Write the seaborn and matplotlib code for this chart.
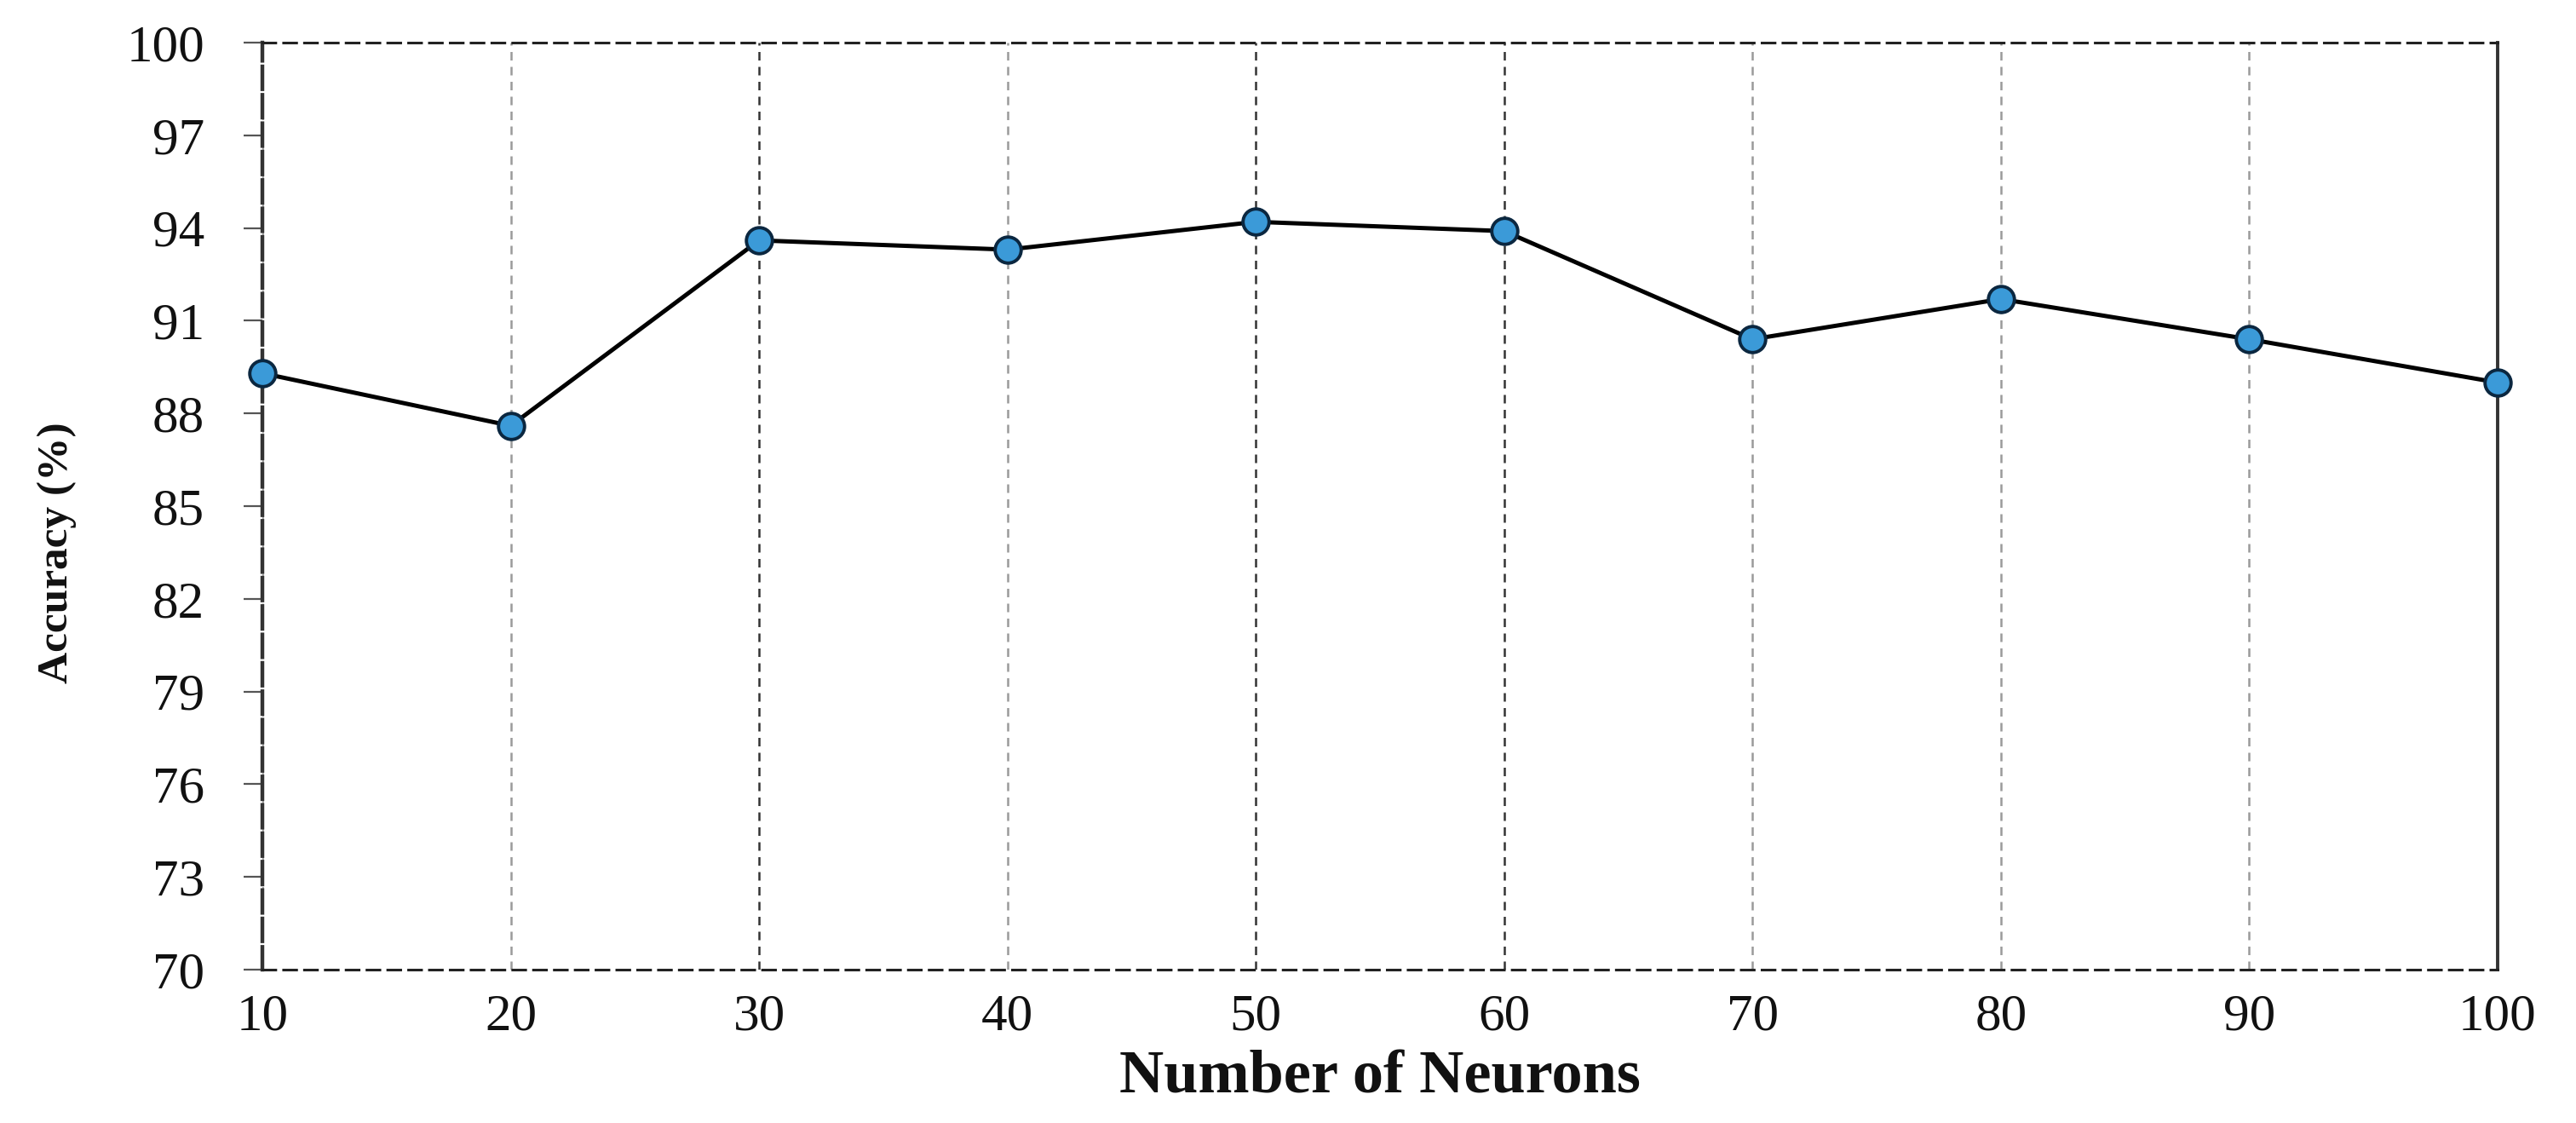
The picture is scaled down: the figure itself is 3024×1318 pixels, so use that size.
import matplotlib
matplotlib.use("Agg")
import matplotlib.pyplot as plt
import seaborn as sns
import pandas as pd
import numpy as np

# ---- data ----
neurons = [10, 20, 30, 40, 50, 60, 70, 80, 90, 100]
accuracy = [89.3, 87.6, 93.6, 93.3, 94.2, 93.9, 90.4, 91.7, 90.4, 89.0]
y_ticks = [70, 73, 76, 79, 82, 85, 88, 91, 94, 97, 100]
x_label = "Number of Neurons"
y_label = "Accuracy (%)"

sns.set_theme(style="white")
plt.rcParams["font.family"] = ["Liberation Serif", "DejaVu Serif"]

df = pd.DataFrame({"neurons": neurons, "accuracy": accuracy})

fig = plt.figure(figsize=(30.24, 13.18), dpi=100)
ax = fig.add_axes([0.10185, 0.13657, 0.8677, 0.8255])

sns.lineplot(data=df, x="neurons", y="accuracy", ax=ax, color="black",
             linewidth=3.6, marker="o", markersize=22,
             markerfacecolor="#3b9ad8", markeredgecolor="#0b2740",
             markeredgewidth=2.8, zorder=5, clip_on=False)

ax.set_xlim(neurons[0], neurons[-1])
ax.set_ylim(y_ticks[0], y_ticks[-1])
ax.set_xticks(neurons)
ax.set_yticks(y_ticks)

ax.grid(axis="x", linestyle=(0, (4, 3)), color="#9a9a9a", linewidth=1.8)
ax.grid(axis="y", visible=False)
dark = {30, 50, 60}
for val, gl in zip(neurons, ax.xaxis.get_gridlines()):
    if val in dark:
        gl.set_color("#333333")

for side in ["top", "bottom"]:
    ax.spines[side].set_linestyle((0, (5, 3)))
    ax.spines[side].set_color("#222222")
    ax.spines[side].set_linewidth(2.2)
ax.spines["left"].set_linestyle((0, (6, 1.5)))
ax.spines["left"].set_color("#333333")
ax.spines["left"].set_linewidth(3.2)
ax.spines["right"].set_color("#333333")
ax.spines["right"].set_linewidth(2.8)

ax.tick_params(axis="y", which="major", direction="out", length=16,
               width=1.6, color="#555555", labelsize=44, pad=33,
               left=True, labelcolor="#111111")
ax.tick_params(axis="x", which="major", length=0, labelsize=44, pad=20,
               bottom=True, labelcolor="#111111")

ax.set_xlabel(x_label, fontsize=52, fontweight="bold", labelpad=8,
              color="#111111")
ax.set_ylabel(y_label, fontsize=37, fontweight="bold", color="#111111")
ax.yaxis.set_label_coords(-0.083, 0.45)

fig.savefig("out.png", dpi=100, facecolor="white")
